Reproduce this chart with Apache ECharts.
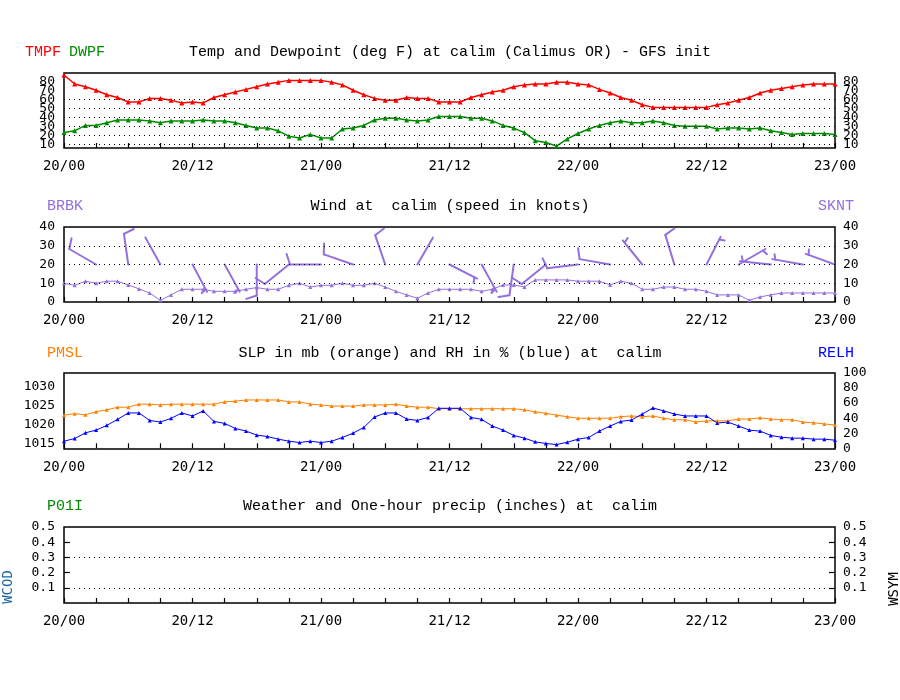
<!DOCTYPE html>
<html>
<head>
<meta charset="utf-8">
<script src="https://cdn.jsdelivr.net/npm/echarts@6.0.0/dist/echarts.min.js"></script>
<style>html,body{margin:0;padding:0;background:#fff}#c{width:900px;height:700px}</style>
</head>
<body>
<div id="c"></div>
<script>
// ---- data (hourly, 20/00 .. 23/00) ----
const timeLabels = ['20/00','20/12','21/00','21/12','22/00','22/12','23/00'];
const tmpf = [87,77,74,70,65,62,57,57,61,61,59,56,57,56,62,65,68,71,74,77,79,81,81,81,81,79,76,70,65,61,59,59,62,61,61,57,57,57,62,65,68,70,74,76,77,77,79,79,77,76,71,67,62,59,54,51,51,51,51,51,51,54,56,59,62,67,70,72,74,76,77,77,77];
const dwpf = [23,25,31,31,34,37,37,37,36,34,36,36,36,37,36,36,34,31,28,28,25,19,17,21,17,17,27,28,31,37,39,39,37,36,37,41,41,41,39,39,36,31,28,23,14,12,8,16,22,27,31,34,36,34,34,36,34,31,30,30,30,27,28,28,27,28,25,23,21,22,22,22,21];
const sknt = [10,8.9,11.1,10,11.1,11.1,9.1,7,4.8,0.9,3.8,6.8,6.8,6.8,5.7,5.7,5.7,6.8,7.7,6.8,6.8,8.9,10,8,8.9,8.9,10,8.9,8.9,10,8,5.7,3.8,2,4.8,6.8,6.8,6.8,6.8,5.7,6.8,9.1,9.1,8,11.8,11.8,11.8,11.8,11.1,11.1,11.1,9.1,11.1,10,6.8,6.8,8,8,6.8,6.8,5.7,3.8,3.8,3.8,0.9,2.7,3.8,4.8,4.8,4.8,4.8,4.8,4.8];
const barbHours = [0,3,6,9,12,15,18,21,24,27,30,33,36,39,42,45,48,51,54,57,60,63,66,69,72];
const barbDir = [270,300,352,331,152,151,180,231,270,289,341,30,117,151,188,231,263,280,321,343,27,60,276,280,290];
const pmsl = [1022.4,1022.8,1022.5,1023.3,1023.8,1024.5,1024.5,1025.3,1025.3,1025.1,1025.3,1025.3,1025.3,1025.3,1025.3,1025.9,1026.1,1026.4,1026.4,1026.4,1026.4,1025.9,1025.9,1025.3,1025.1,1024.8,1024.8,1024.8,1025.1,1025.1,1025.1,1025.3,1024.8,1024.5,1024.5,1024.1,1024.1,1024.1,1024.1,1024.1,1024.1,1024.1,1024.1,1023.8,1023.3,1022.9,1022.4,1022.0,1021.6,1021.6,1021.6,1021.6,1022.0,1022.2,1022.0,1022.2,1021.6,1021.2,1021.2,1020.6,1020.9,1020.9,1020.9,1021.4,1021.4,1021.7,1021.4,1021.2,1021.2,1020.6,1020.4,1020.1,1019.8];
const relh = [9.4,12.9,20.5,24.1,30.4,38.4,46.9,46.9,37,34.8,39.7,46.9,42.9,49.6,35.7,33,26.3,22.8,17.4,15.6,12.1,9.4,7.6,9.4,7.6,9.4,14.3,20.1,27.7,41.5,46.9,46.9,38.8,37,41,53.1,53.1,53.1,41,38.4,29.5,24.1,17,13.4,8.5,6.3,4.9,8,12.1,14.3,22.8,29.5,35.7,37.5,45.5,53.6,49.6,45.5,42.9,42.9,42.9,33.5,34.8,29.5,24.1,22.8,17,14.7,13.4,13.4,12.1,12.1,10.7];
const tempTicksOdd = [10,30,50,70];
const tempTicksEven = [20,40,60,80];
const tempGrid = [10,20,30,40,50,60];
const windTicks = [0,10,20,30,40];
const windGrid = [10,20,30];
const slpTicks = [1015,1020,1025,1030];
const rhTicks = [0,20,40,60,80,100];
const precTicks = [0.1,0.2,0.3,0.4,0.5];
const precGrid = [0.1,0.3];
const precTickMarks = [0.1,0.2,0.3,0.4];

// ---- styling constants ----
const RED='#ff0000', GREEN='#008c00', PURPLE='#9370db', ORANGE='#ff8000', BLUE='#0000ff', WBLUE='#1c64a8';
const MONO='"Liberation Mono", monospace';
const NUM='"DejaVu Sans Mono", monospace';
const BARB_LEVEL = 20;
const TMIN=5.9, TMAX=89.2;

const pairs = arr => arr.map((v,i)=>[i,v]);
const grids = [
  {top:73,height:75},{top:227,height:75},{top:373,height:76},{top:527,height:76}
].map(g=>Object.assign({left:64,right:65,show:true,borderColor:'#000',borderWidth:1.5,backgroundColor:'transparent'},g));

const xAxes = grids.map((g,i)=>({
  type:'value', gridIndex:i, min:0, max:72, interval:3,
  axisLine:{show:false},
  axisTick:{show:true,inside:true,length:5,lineStyle:{color:'#000',width:1.2}},
  splitLine:{show:false},
  axisLabel:{show:true,margin:11,color:'#000',fontFamily:NUM,fontSize:14,showMinLabel:true,showMaxLabel:true,hideOverlap:false,
    formatter:v=> (v%12===0 ? timeLabels[v/12] : '')}
}));

function yAx(grid,pos,min,max,ticks,tickMarks,fmt){
  return {type:'value',gridIndex:grid,position:pos,min:min,max:max,
    axisLine:{show:false},splitLine:{show:false},
    axisTick:{show:!!tickMarks,inside:true,length:6,customValues:tickMarks||[],lineStyle:{color:'#000',width:1.2}},
    axisLabel:{show:true,customValues:ticks,margin:pos==='left'?9:8,color:'#000',fontFamily:NUM,fontSize:13,
      showMinLabel:true,showMaxLabel:true,hideOverlap:false,
      formatter:fmt||(v=>String(v))}};
}
const yAxes = [
  yAx(0,'left',TMIN,TMAX,tempTicksOdd), yAx(0,'right',TMIN,TMAX,tempTicksOdd),
  yAx(0,'left',TMIN,TMAX,tempTicksEven), yAx(0,'right',TMIN,TMAX,tempTicksEven),
  yAx(1,'left',0,40,windTicks), yAx(1,'right',0,40,windTicks),
  yAx(2,'left',1013.5,1033.5,slpTicks), yAx(2,'right',-1,100,rhTicks),
  yAx(3,'left',0,0.5,precTicks,precTickMarks,v=>v.toFixed(1)), yAx(3,'right',0,0.5,precTicks,precTickMarks,v=>v.toFixed(1))
];

function dotted(vals){
  return {silent:true,symbol:'none',animation:false,label:{show:false},
    lineStyle:{type:[1,4],color:'#000',width:1},emphasis:{disabled:true},
    data:vals.map(v=>({yAxis:v}))};
}
function lineSeries(name,data,color,xi,yi,w,extra){
  return Object.assign({name,type:'line',xAxisIndex:xi,yAxisIndex:yi,data:pairs(data),
    symbol:'triangle',symbolSize:5,showSymbol:true,animation:false,
    itemStyle:{color:color},lineStyle:{color:color,width:w},z:3},extra||{});
}

function renderBarb(params, api){
  const h=api.value(0), dir=api.value(1), spd=api.value(2);
  const base=api.coord([h,BARB_LEVEL]);
  const L=31, FL=11;
  const r=dir*Math.PI/180, ux=Math.sin(r), uy=-Math.cos(r);
  const tip=[base[0]+ux*L, base[1]+uy*L];
  const fr=(dir+72)*Math.PI/180, fx=Math.sin(fr), fy=-Math.cos(fr);
  const st={stroke:PURPLE,lineWidth:2,lineCap:'round'};
  const ch=[{type:'line',shape:{x1:base[0],y1:base[1],x2:tip[0],y2:tip[1]},style:st}];
  const n=Math.round(spd/5)*5;
  let full=Math.floor(n/10), half=(n%10)===5;
  let off=0;
  for(let k=0;k<full;k++){
    const p=[tip[0]-ux*off, tip[1]-uy*off];
    ch.push({type:'line',shape:{x1:p[0],y1:p[1],x2:p[0]+fx*FL,y2:p[1]+fy*FL},style:st});
    off+=4;
  }
  if(half){
    if(off===0) off=3;
    const p=[tip[0]-ux*off, tip[1]-uy*off];
    ch.push({type:'line',shape:{x1:p[0],y1:p[1],x2:p[0]+fx*FL/2,y2:p[1]+fy*FL/2},style:st});
  }
  return {type:'group',children:ch};
}

const barbData = barbHours.map((h,i)=>[h,barbDir[i],sknt[h]]);

const series = [
  lineSeries('TMPF',tmpf,RED,0,0,1.5,{markLine:dotted(tempGrid)}),
  lineSeries('DWPF',dwpf,GREEN,0,0,1.5),
  lineSeries('SKNT',sknt,PURPLE,1,4,1,{symbolSize:4,markLine:dotted(windGrid)}),
  {name:'BRBK',type:'custom',xAxisIndex:1,yAxisIndex:4,data:barbData,renderItem:renderBarb,clip:true,animation:false,z:4},
  lineSeries('PMSL',pmsl,ORANGE,2,6,1,{symbolSize:4}),
  lineSeries('RELH',relh,BLUE,2,7,1,{symbolSize:4}),
  {name:'P01I',type:'line',xAxisIndex:3,yAxisIndex:8,data:[],markLine:dotted(precGrid),animation:false}
];

function txt(text,x,y,color,align){
  return {type:'text',x:x,y:y,silent:true,
    style:{text:text,fill:color||'#000',font:'15px '+MONO,align:align||'left',verticalAlign:'middle'}};
}
const graphic = [
  txt('TMPF',25,52,RED), txt('DWPF',69,52,GREEN),
  txt('Temp and Dewpoint (deg F) at calim (Calimus OR) - GFS init',450,52,'#000','center'),
  txt('BRBK',47,206,PURPLE), txt('SKNT',818,206,PURPLE),
  txt('Wind at  calim (speed in knots)',450,206,'#000','center'),
  txt('PMSL',47,353,ORANGE), txt('RELH',818,353,BLUE),
  txt('SLP in mb (orange) and RH in % (blue) at  calim',450,353,'#000','center'),
  txt('P01I',47,506,GREEN),
  txt('Weather and One-hour precip (inches) at  calim',450,506,'#000','center'),
  {type:'text',x:8,y:587,rotation:Math.PI/2,silent:true,style:{text:'WCOD',fill:WBLUE,font:'14px '+NUM,align:'center',verticalAlign:'middle'}},
  {type:'text',x:894,y:589,rotation:Math.PI/2,silent:true,style:{text:'WSYM',fill:'#000',font:'14px '+NUM,align:'center',verticalAlign:'middle'}}
];

const chart = echarts.init(document.getElementById('c'),null,{renderer:'canvas'});
chart.setOption({
  animation:false,
  backgroundColor:'#fff',
  grid:grids, xAxis:xAxes, yAxis:yAxes, series:series, graphic:graphic
});
</script>
</body>
</html>
